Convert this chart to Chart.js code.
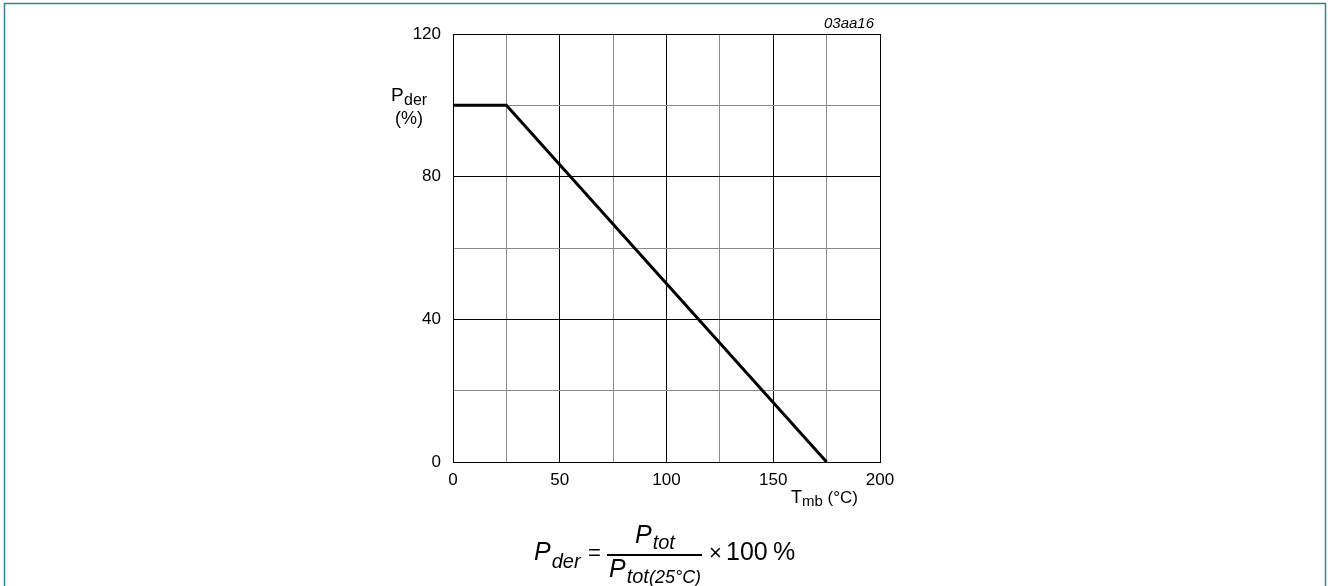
<!DOCTYPE html>
<html>
<head>
<meta charset="utf-8">
<script src="https://cdn.jsdelivr.net/npm/chart.js@4"></script>
<style>
  html, body { margin: 0; padding: 0; background: #fff; }
  #wrap { width: 1328px; height: 586px; position: relative; }
</style>
</head>
<body>
<div id="wrap"><canvas id="derating" width="1328" height="586"></canvas></div>
<script>
// derating curve: temperature (°C) vs. derated power (%)
const tempValues = [0, 25, 175];
const powerValues = [100, 100, 0];
const xTicks = [0, 50, 100, 150, 200];
const yTicks = [0, 40, 80, 120];

const FONT = 'Arial, "Liberation Sans", sans-serif';

// italic symbol with a subscript right after it
function symbolWithSub(ctx, sym, sub, x, y, size, subSize, drop) {
    ctx.font = 'italic ' + size + 'px ' + FONT;
    ctx.fillText(sym, x, y);
    const w = ctx.measureText(sym).width;
    ctx.font = 'italic ' + subSize + 'px ' + FONT;
    ctx.fillText(sub, x + w + 1, y + drop);
    return x + w + 1 + ctx.measureText(sub).width;
}

// draws the frame, the axis titles, the figure code and the formula
const annotations = {
    id: 'annotations',
    afterDraw: function(chart) {
        const ctx = chart.ctx;
        ctx.save();

        // outer frame
        ctx.strokeStyle = '#2f8590';
        ctx.lineWidth = 1.5;
        ctx.beginPath();
        ctx.moveTo(4.5, 586);
        ctx.lineTo(4.5, 3.5);
        ctx.lineTo(1325.5, 3.5);
        ctx.lineTo(1325.5, 586);
        ctx.stroke();

        ctx.fillStyle = '#000';
        ctx.textBaseline = 'alphabetic';

        // figure code
        ctx.font = 'italic 15px ' + FONT;
        ctx.textAlign = 'right';
        ctx.fillText('03aa16', 874, 28);

        ctx.textAlign = 'left';
        // y axis title
        ctx.font = '19px ' + FONT;
        ctx.fillText('P', 391, 101);
        ctx.font = '16px ' + FONT;
        ctx.fillText('der', 404, 105);
        ctx.font = '18px ' + FONT;
        ctx.fillText('(%)', 395, 124);

        // x axis title
        ctx.font = '18px ' + FONT;
        ctx.fillText('T', 791, 503);
        let w = ctx.measureText('T').width;
        ctx.font = '15px ' + FONT;
        ctx.fillText('mb', 791 + w, 506);
        const w2 = ctx.measureText('mb').width;
        ctx.font = '17px ' + FONT;
        ctx.fillText(' (°C)', 791 + w + w2, 503);

        // formula
        symbolWithSub(ctx, 'P', 'der', 534, 560, 25, 20, 8);
        ctx.font = '22px ' + FONT;
        ctx.fillText('=', 588, 560);

        ctx.lineWidth = 2;
        ctx.strokeStyle = '#000';
        ctx.beginPath();
        ctx.moveTo(607, 555);
        ctx.lineTo(702, 555);
        ctx.stroke();

        symbolWithSub(ctx, 'P', 'tot', 635, 543, 25, 20, 6);
        const end = symbolWithSub(ctx, 'P', 'tot', 609, 577, 25, 20, 6);
        ctx.font = 'italic 18px ' + FONT;
        ctx.fillText('(25°C)', end, 583);

        ctx.font = '22px ' + FONT;
        ctx.fillText('×', 709, 560);
        ctx.font = '25px ' + FONT;
        ctx.fillText('100', 726, 560);
        ctx.fillText('%', 773, 560);

        ctx.restore();
    }
};

function gridColor(ctx, majorStep) {
    const v = ctx.tick ? ctx.tick.value : 0;
    return v % majorStep === 0 ? '#000' : '#8a8a8a';
}

new Chart(document.getElementById('derating'), {
    type: 'scatter',
    data: {
        datasets: [{
            data: tempValues.map((t, i) => ({ x: t, y: powerValues[i] })),
            showLine: true,
            borderColor: '#000',
            borderWidth: 3,
            pointRadius: 0,
            tension: 0
        }]
    },
    options: {
        responsive: false,
        animation: false,
        layout: { padding: { left: 0, top: 34, right: 448, bottom: 0 } },
        plugins: {
            legend: { display: false },
            tooltip: { enabled: false }
        },
        scales: {
            x: {
                type: 'linear',
                min: 0,
                max: 200,
                afterFit: function(scale) { scale.height = 586 - 34 - 428; },
                afterBuildTicks: function(scale) {
                    scale.ticks = [0, 25, 50, 75, 100, 125, 150, 175, 200].map(v => ({ value: v }));
                },
                ticks: {
                    autoSkip: false,
                    maxRotation: 0,
                    padding: 8,
                    color: '#000',
                    font: { family: FONT, size: 17 },
                    callback: v => xTicks.includes(v) ? String(v) : ''
                },
                grid: {
                    drawTicks: false,
                    lineWidth: 1,
                    color: ctx => gridColor(ctx, 50)
                },
                border: { display: true, color: '#000', width: 1 }
            },
            y: {
                min: 0,
                max: 120,
                afterFit: function(scale) { scale.width = 453; },
                afterBuildTicks: function(scale) {
                    scale.ticks = [0, 20, 40, 60, 80, 100, 120].map(v => ({ value: v }));
                },
                ticks: {
                    autoSkip: false,
                    padding: 12,
                    color: '#000',
                    font: { family: FONT, size: 17 },
                    callback: v => yTicks.includes(v) ? String(v) : ''
                },
                grid: {
                    drawTicks: false,
                    lineWidth: 1,
                    color: ctx => gridColor(ctx, 40)
                },
                border: { display: true, color: '#000', width: 1 }
            }
        }
    },
    plugins: [annotations]
});
</script>
</body>
</html>
